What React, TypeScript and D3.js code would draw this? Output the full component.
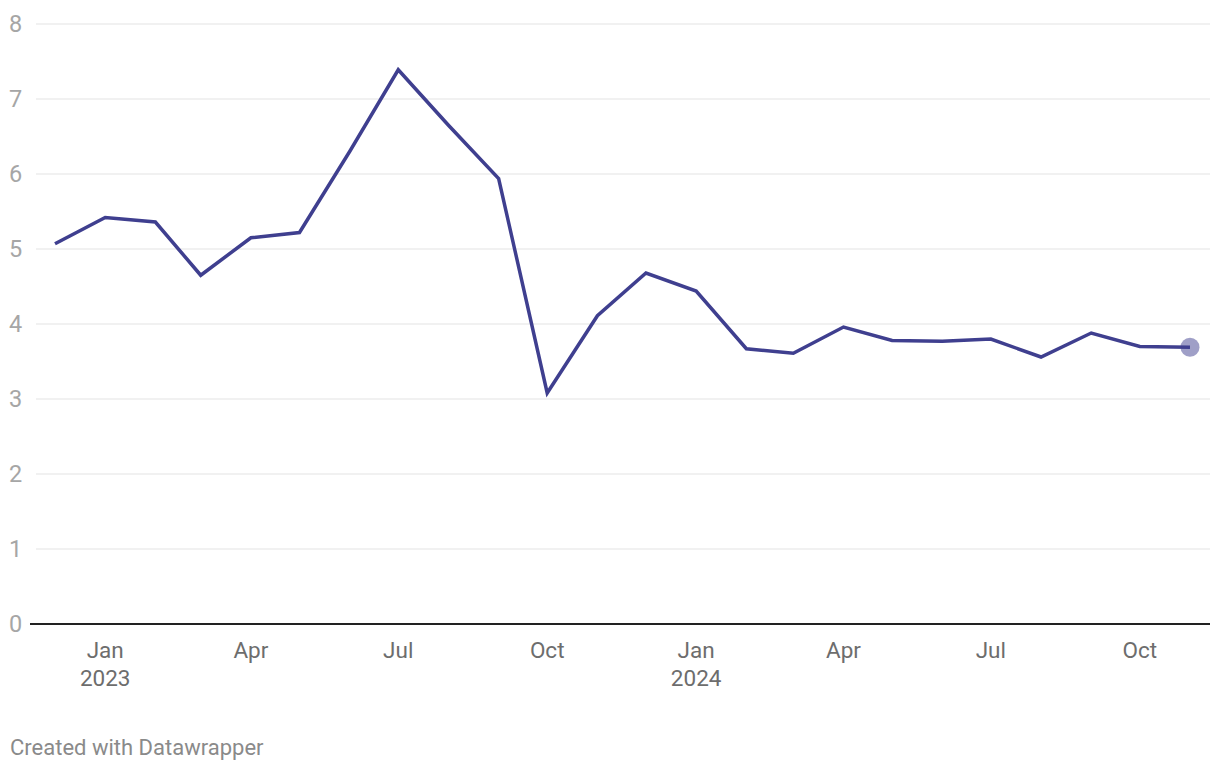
import React from "react";
import * as d3 from "d3";

const months: string[] = [
  "2022-12", "2023-01", "2023-02", "2023-03", "2023-04", "2023-05", "2023-06", "2023-07",
  "2023-08", "2023-09", "2023-10", "2023-11", "2023-12", "2024-01", "2024-02", "2024-03",
  "2024-04", "2024-05", "2024-06", "2024-07", "2024-08", "2024-09", "2024-10", "2024-11",
];
const values: number[] = [
  5.07, 5.42, 5.36, 4.65, 5.15, 5.22, 6.3, 7.39,
  6.65, 5.94, 3.08, 4.11, 4.68, 4.44, 3.67, 3.61,
  3.96, 3.78, 3.77, 3.8, 3.56, 3.88, 3.7, 3.69,
];
const yTicks: number[] = [0, 1, 2, 3, 4, 5, 6, 7, 8];
const xTickMonths: string[] = ["2023-01", "2023-04", "2023-07", "2023-10", "2024-01", "2024-04", "2024-07", "2024-10"];
const footer = "Created with Datawrapper";

const parse = d3.timeParse("%Y-%m");

export default function App() {
  const W = 1220, H = 770;
  const data = months.map((m, i) => ({ date: parse(m) as Date, value: values[i] }));
  const x = d3.scaleTime()
    .domain([data[0].date, data[data.length - 1].date])
    .range([55, 1190]);
  const y = d3.scaleLinear().domain([0, 8]).range([624, 24]);
  const line = d3.line<{ date: Date; value: number }>()
    .x(d => x(d.date))
    .y(d => y(d.value));
  const last = data[data.length - 1];
  const fmtMonth = d3.timeFormat("%b");
  const fmtYear = d3.timeFormat("%Y");
  const font = "Roboto, sans-serif";

  return (
    <svg width={W} height={H} style={{ position: "absolute", left: 0, top: 0 }}>
      <rect x={0} y={0} width={W} height={H} fill="#fff" />
      {yTicks.filter(t => t > 0).map(t => (
        <line key={t} x1={36} x2={1210} y1={y(t)} y2={y(t)} stroke="#e3e3e3" strokeWidth={1} />
      ))}
      {yTicks.map(t => (
        <text key={"l" + t} x={9} y={y(t)} dy="0.35em" fontFamily={font} fontSize={23.5} fill="#a6a6a6">{t}</text>
      ))}
      <line x1={30} x2={1210} y1={y(0)} y2={y(0)} stroke="#222" strokeWidth={2} />
      {xTickMonths.map(m => {
        const d = parse(m) as Date;
        const isJan = d.getMonth() === 0;
        return (
          <g key={m}>
            <text x={x(d)} y={658} textAnchor="middle" fontFamily={font} fontSize={22.5} fill="#6d6d6d">{fmtMonth(d)}</text>
            {isJan && (
              <text x={x(d)} y={686} textAnchor="middle" fontFamily={font} fontSize={22.5} fill="#6d6d6d">{fmtYear(d)}</text>
            )}
          </g>
        );
      })}
      <path d={line(data) || ""} fill="none" stroke="#3f3f8f" strokeWidth={3.5} strokeLinejoin="miter" />
      <circle cx={x(last.date)} cy={y(last.value)} r={9.5} fill="#3f3f8f" fillOpacity={0.5} />
      <text x={10} y={755} fontFamily={font} fontSize={22} fill="#8a8a8a">{footer}</text>
    </svg>
  );
}
